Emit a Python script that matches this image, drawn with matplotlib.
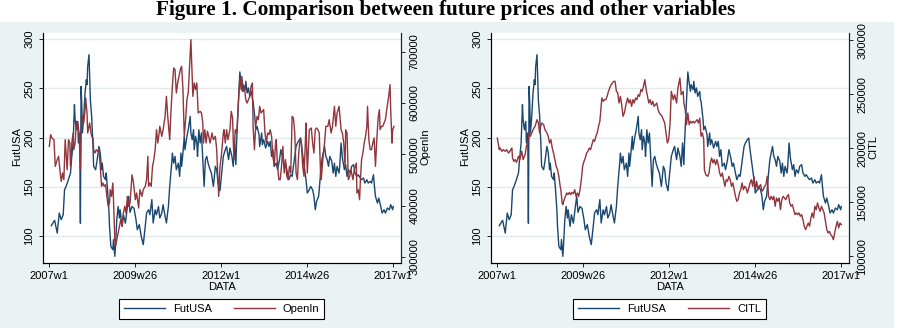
import matplotlib
matplotlib.use('Agg')
import matplotlib.pyplot as plt
from matplotlib.patches import Rectangle

plt.rcParams['font.family'] = ['Liberation Sans', 'DejaVu Sans']

# ---------------- data (weekly index: 0 = 2007w1) ----------------
tick_weeks = [0, 129, 260, 389, 520]
tick_labels = ['2007w1', '2009w26', '2012w1', '2014w26', '2017w1']

fut_weeks = [3, 6, 8, 12, 15, 18, 21, 23, 25, 28, 32, 34, 36, 38, 39, 41, 43, 44, 46, 47,
             48, 49, 50, 52, 54, 56, 57, 58, 60, 62, 64, 66, 67, 70, 72, 75, 77, 79, 80, 82,
             85, 86, 88, 90, 91, 93, 96, 97, 99, 100, 102, 104, 106, 107, 110, 112, 115, 118, 120, 122,
             125, 128, 131, 133, 136, 139, 142, 145, 147, 150, 152, 155, 157, 160, 162, 165, 167, 170, 172, 175,
             177, 180, 182, 185, 186, 188, 190, 192, 195, 197, 199, 200, 202, 204, 205, 208, 210, 213, 214, 216,
             218, 219, 221, 223, 224, 226, 228, 230, 232, 234, 236, 238, 240, 243, 245, 248, 249, 251, 253, 255,
             258, 260, 263, 266, 268, 271, 273, 276, 278, 280, 282, 283, 286, 288, 290, 292, 293, 296, 297, 299,
             301, 303, 306, 307, 308, 311, 312, 314, 317, 318, 321, 322, 324, 327, 330, 332, 334, 336, 338, 340,
             343, 345, 348, 350, 353, 355, 357, 360, 362, 365, 367, 369, 371, 373, 375, 378, 380, 382, 384, 386,
             388, 390, 393, 395, 398, 400, 402, 404, 407, 408, 410, 412, 414, 416, 418, 420, 422, 424, 427, 429,
             431, 433, 435, 438, 439, 441, 443, 446, 448, 450, 452, 455, 457, 460, 462, 465, 467, 470, 472, 475,
             477, 480, 482, 485, 487, 490, 491, 493, 496, 498, 501, 503, 506, 508, 511, 514, 516, 519, 520]
fut_usa = [110.5, 113.9, 115.9, 103, 123.3, 116.6, 121.6, 147, 149.8, 155.5, 164, 181, 194.5, 233.5, 218, 208, 216.5, 194.5, 204.7, 113,
           252, 235, 204.7, 221.6, 245.3, 258.9, 253.8, 272.4, 284.3, 238.5, 221.6, 191, 170.8, 167.4, 175.9, 191, 184.3, 167.4, 174, 160.6,
           157.2, 164, 147, 126.7, 109.8, 89.5, 86.1, 96.3, 79.3, 89.5, 116.6, 130, 118.3, 126.7, 109.8, 121.6, 113, 130, 140.3, 124,
           130, 128, 116.6, 106.4, 111.5, 99.6, 91.2, 109.8, 123.3, 126.7, 121.6, 137, 113.2, 126.7, 121.6, 130, 118.3, 123.3, 131.8, 120,
           113.2, 130, 150.4, 174, 184.3, 174, 180.9, 167.4, 174, 160.6, 184.3, 170.8, 184.3, 201.3, 187.7, 201.3, 208, 221.6, 204.7, 197.9,
           208, 187.7, 201.3, 194.5, 180.9, 208, 194.5, 204.7, 177.6, 150.4, 177.6, 180.9, 174, 167.4, 164, 150.4, 157.2, 170.8, 167.4, 153.8,
           146, 160, 180.9, 187.7, 191, 177.6, 189.4, 180.9, 170.8, 194.5, 172.5, 194.5, 238.5, 266.7, 255.5, 247, 253.8, 248.7, 257.2, 245.3,
           250.4, 241.9, 247, 238.5, 236.8, 218.2, 208, 211.4, 203, 191, 204.7, 192.8, 197.9, 189.4, 196.2, 191, 196.2, 180.9, 187.7, 170.8,
           174, 167.4, 177.6, 187.7, 179.3, 170.8, 174, 164, 157.2, 162.3, 160.6, 170.8, 180.9, 191, 194.5, 197.9, 199.6, 187.7, 177.6, 167.4,
           157.2, 143.7, 147, 150.4, 147, 140.3, 126.7, 135.2, 140.3, 147, 164, 177.6, 184.3, 191, 180.9, 177.6, 170.8, 180.9, 175.9, 164,
           174, 160.6, 170.8, 164, 170.8, 194.5, 179.3, 167.4, 172.5, 160.6, 167.4, 164, 170.8, 172.5, 164, 160.6, 162.3, 158.9, 157.2, 158.9,
           153.8, 157.2, 153.8, 155.5, 153.8, 162.3, 153.8, 140.3, 133.5, 138.6, 130, 123.3, 126.7, 123.3, 128.4, 126.7, 131.8, 126.7, 130]

open_weeks = [0, 2, 4, 7, 9, 12, 14, 17, 18, 20, 22, 24, 26, 27, 29, 31, 32, 34, 36, 37,
              39, 41, 43, 45, 47, 48, 50, 52, 54, 55, 57, 58, 60, 61, 63, 64, 66, 67, 69, 71,
              73, 75, 77, 79, 81, 83, 85, 87, 89, 91, 92, 94, 96, 97, 99, 100, 102, 104, 106, 108,
              110, 112, 114, 116, 118, 120, 122, 125, 127, 130, 132, 135, 137, 140, 142, 145, 147, 149, 150, 152,
              154, 156, 158, 160, 162, 164, 166, 167, 170, 172, 175, 177, 179, 182, 184, 186, 188, 190, 192, 194,
              196, 198, 200, 202, 204, 206, 208, 210, 212, 214, 215, 217, 219, 221, 223, 225, 228, 230, 232, 233,
              235, 237, 239, 241, 243, 246, 248, 251, 253, 256, 258, 260, 263, 264, 266, 268, 270, 273, 275, 277,
              279, 281, 283, 284, 286, 288, 290, 291, 293, 295, 297, 299, 301, 303, 305, 307, 308, 310, 312, 314,
              316, 318, 320, 322, 324, 326, 328, 330, 332, 334, 336, 338, 340, 342, 343, 345, 347, 349, 351, 353,
              355, 357, 359, 361, 363, 365, 367, 369, 371, 373, 375, 377, 379, 381, 383, 385, 387, 388, 390, 393,
              396, 398, 400, 402, 404, 406, 408, 410, 411, 413, 416, 418, 421, 423, 426, 428, 431, 433, 435, 438,
              441, 443, 445, 447, 448, 450, 452, 454, 456, 459, 461, 464, 465, 467, 469, 470, 472, 474, 476, 478,
              480, 481, 483, 485, 487, 489, 491, 493, 495, 497, 499, 500, 502, 504, 506, 508, 510, 513, 515, 516,
              518, 519, 521]
open_in = [515.5, 538.3, 531.8, 528.5, 476.5, 489.5, 496, 457, 447.3, 463.5, 450.5, 528.5, 489.5, 470, 528.5, 522, 476.5, 522, 541.5, 509,
           522, 564.3, 561, 541.5, 470, 541.5, 574, 561, 587, 609.8, 580.5, 541.5, 554.5, 561, 541.5, 535, 531.8, 509, 502.5, 509,
           505.8, 509, 476.5, 437.5, 444, 437.5, 440.8, 418, 398.5, 405, 431, 418, 444, 411.5, 333.5, 320.5, 333.5, 346.6, 359.6, 372.6,
           359.6, 385.6, 398.5, 385.6, 418, 398.5, 405, 460, 447, 411.5, 424.6, 395.3, 431, 418, 431, 437.5, 450.5, 496, 437.5, 444,
           437.5, 476.5, 489.5, 509, 548, 522, 541.5, 554.5, 535, 548, 574, 613, 574, 528.5, 587, 632.5, 668.2, 665, 619.5, 639,
           652, 665, 671.5, 626, 535, 567.5, 606.5, 619.5, 671.5, 723.5, 684.5, 613, 639, 626, 639, 580.5, 583.8, 580.5, 561, 522,
           548, 522, 544.8, 535, 522, 541.5, 528.5, 535, 509, 418, 476.5, 496, 541.5, 548, 522, 548, 528.5, 548, 583.8, 570.8,
           489.5, 548, 541.5, 554.5, 606.5, 648.7, 626, 652, 622.7, 629.2, 606.5, 600, 606.5, 613, 632.5, 639, 554.5, 509, 554.5, 574,
           567.5, 593.5, 580.5, 583.8, 587, 541.5, 522, 541.5, 538.3, 548, 535, 496, 476.5, 522, 528.5, 476.5, 450.5, 450.5, 476.5, 515.5,
           463.5, 489.5, 457, 450.5, 476.5, 463.5, 574, 570.8, 541.5, 463.5, 450.5, 502.5, 528.5, 522, 476.5, 457, 522, 561, 463.5, 548,
           551.3, 522, 502.5, 548, 551.3, 548, 541.5, 463.5, 450.5, 483, 522, 554.5, 554.5, 567.5, 541.5, 554.5, 593.5, 554.5, 580.5, 593.5,
           548, 541.5, 522, 476.5, 548, 541.5, 450.5, 457, 470, 450.5, 470, 483, 424.6, 431, 411.5, 444, 489.5, 502.5, 522, 535,
           554.5, 593.5, 528.5, 509, 509, 522, 531.8, 476.5, 528.5, 570.8, 587, 548, 554.5, 554.5, 561, 567.5, 587, 613, 635.7, 587,
           522, 548, 554.5]
open_in = [v * 1000 for v in open_in]

citl_weeks = [0, 3, 4, 7, 9, 12, 14, 17, 19, 22, 23, 25, 27, 29, 32, 34, 37, 39, 42, 44,
              47, 48, 50, 52, 54, 57, 60, 62, 64, 65, 67, 70, 72, 75, 77, 79, 81, 83, 85, 87,
              89, 91, 93, 95, 96, 98, 99, 101, 103, 105, 107, 109, 111, 113, 115, 117, 119, 121, 123, 125,
              127, 129, 131, 133, 135, 137, 139, 141, 143, 145, 147, 149, 151, 153, 155, 157, 158, 160, 162, 164,
              166, 168, 170, 172, 174, 176, 178, 180, 182, 184, 186, 188, 190, 192, 195, 197, 199, 201, 203, 205,
              207, 209, 211, 213, 215, 217, 219, 221, 223, 225, 227, 229, 231, 233, 235, 237, 239, 241, 243, 245,
              247, 249, 251, 253, 255, 257, 259, 261, 263, 266, 268, 271, 273, 276, 278, 281, 282, 284, 286, 288,
              290, 292, 294, 296, 298, 300, 302, 304, 306, 308, 310, 312, 313, 315, 318, 320, 322, 324, 326, 328,
              330, 332, 334, 336, 338, 340, 342, 344, 346, 348, 350, 352, 354, 356, 358, 360, 362, 364, 366, 368,
              370, 372, 374, 376, 378, 380, 382, 384, 386, 388, 390, 392, 394, 396, 398, 400, 402, 404, 406, 408,
              410, 412, 414, 416, 418, 420, 422, 424, 426, 428, 430, 432, 434, 436, 438, 440, 442, 444, 446, 448,
              450, 452, 454, 456, 458, 460, 462, 464, 466, 468, 470, 472, 474, 476, 478, 480, 482, 484, 486, 488,
              490, 492, 494, 496, 498, 500, 502, 504, 506, 508, 510, 512, 514, 516, 518, 520]
citl = [209.7, 198.9, 200.5, 197.4, 198.9, 197.4, 198.9, 195.8, 197.4, 200.5, 191.2, 188.1, 189.7, 187.2, 192.8, 189.7, 197.4, 189.7, 194.3, 202,
        208.2, 214.4, 211.3, 214.4, 217.4, 220.5, 226.7, 223.6, 214.4, 219, 223.6, 222.1, 217.4, 214.4, 211.3, 205.1, 208.2, 200.5, 195.8, 189.7,
        183.5, 180.4, 174.2, 165, 161.9, 149.6, 148, 152.6, 155.7, 158.8, 157.3, 159.4, 157.3, 159.4, 158.2, 161.9, 155.7, 158.8, 155.7, 161.9,
        171.1, 183.5, 188.1, 191.2, 195.8, 197.4, 200.5, 198.9, 203.6, 208.2, 206.6, 211.3, 214.4, 220.5, 225.2, 239, 246.8, 243.7, 245.2, 245.2,
        248.3, 252.9, 256, 259.1, 260.6, 262.2, 262.2, 252.9, 251.4, 242.1, 248.3, 240.6, 229.8, 232.9, 242.1, 246.8, 242.1, 245.2, 239, 245.2,
        242.1, 246.8, 245.2, 249.8, 248.3, 254.5, 252.9, 257.6, 263.7, 254.5, 248.3, 242.1, 245.2, 240.6, 243.7, 239, 240.6, 242.1, 235.9, 232.9,
        231.3, 229.8, 226.7, 223.6, 214.4, 205.1, 208.2, 222, 252.9, 245.2, 249.8, 242.1, 256, 265.3, 249.8, 252.9, 242.1, 236, 222.1, 232.9,
        222.1, 225.2, 223.6, 225.2, 223.6, 225.2, 226.7, 223.6, 228.2, 211.3, 214.4, 208.2, 180.4, 175.8, 174.2, 177.3, 186.6, 191.2, 186.6, 189.7,
        185, 189.7, 185, 177.3, 174.2, 177.3, 171.1, 165, 171.1, 169.6, 174.2, 171.1, 165, 168.1, 161.9, 155.7, 151.1, 152.6, 158.8, 161.9,
        168.1, 161.9, 165, 163.4, 158.8, 163.4, 168.1, 171.1, 165, 174.2, 161.9, 169.6, 161.9, 165, 166.5, 160.4, 161.9, 165, 166.5, 174.2,
        155.7, 152.6, 155.7, 152.6, 155.7, 146.5, 154.2, 151.1, 154.2, 143.4, 152.6, 155.7, 154.2, 152.6, 155.7, 157.3, 149.6, 146.5, 148, 143.4,
        138.8, 140.3, 138.8, 140.3, 137.2, 138.8, 134.1, 128, 124.9, 128, 131, 128, 135.7, 140.3, 135.7, 146.5, 143.4, 149.6, 144.9, 141.8,
        146.5, 143.4, 140.3, 132.6, 124.9, 121.8, 123.3, 120.2, 118.7, 115.6, 121.8, 128, 132.6, 126.5, 131, 129.5]
citl = [v * 1000 for v in citl]

open_ticks = [300000, 400000, 500000, 600000, 700000]
citl_ticks = [100000, 150000, 200000, 250000, 300000]
fut_ticks = [100, 150, 200, 250, 300]

NAVY = '#1A476F'
MAROON = '#90353B'
BG = '#EAF2F3'

W, H = 898, 328
fig = plt.figure(figsize=(W / 100, H / 100), dpi=100)
fig.patch.set_facecolor('white')


def fx(px):
    return px / W


def fy(py):
    return 1 - py / H


fig.patches.append(Rectangle((0, 0), fx(894), fy(22), transform=fig.transFigure,
                             facecolor=BG, edgecolor='none', zorder=0))

fig.text(fx(446), fy(10.5), 'Figure 1. Comparison between future prices and other variables',
         ha='center', va='center', fontsize=15.3, fontweight='bold', family='Liberation Serif')

FS = 8


def panel(x0, rweeks, rvals, rlim, rticks, rname):
    ax = fig.add_axes([fx(x0), 1 - 263 / H, 358.3 / W, 230 / H])
    ax.set_facecolor('white')
    ax.set_zorder(2)
    l1, = ax.plot(fut_weeks, fut_usa, color=NAVY, lw=1.0, zorder=3)
    ax.set_xlim(-10, 531.6)
    ax.set_ylim(72.56, 306.3)
    ax.set_yticks(fut_ticks)
    ax.set_yticklabels([str(t) for t in fut_ticks], rotation=90, va='center', fontsize=FS)
    ax.set_xticks(tick_weeks)
    ax.set_xticklabels(tick_labels, fontsize=FS)
    ax.grid(axis='y', color='#E2EAEC', lw=1.0)
    ax.set_axisbelow(True)
    for s in ['left', 'bottom', 'right']:
        ax.spines[s].set_color('#222222')
        ax.spines[s].set_linewidth(0.8)
    ax.spines['top'].set_visible(False)
    ax.tick_params(direction='out', length=3, width=0.7, color='#222222', pad=2.5)
    ax.tick_params(axis='y', pad=3)

    ax2 = ax.twinx()
    l2, = ax2.plot(rweeks, rvals, color=MAROON, lw=1.0, zorder=3)
    ax2.set_ylim(*rlim)
    ax2.set_yticks(rticks)
    ax2.set_yticklabels([str(t) for t in rticks], rotation=90, va='center', fontsize=FS)
    ax2.spines['top'].set_visible(False)
    ax2.spines['right'].set_color('#222222')
    ax2.spines['right'].set_linewidth(0.8)
    ax2.tick_params(direction='out', length=3, width=0.7, color='#222222', pad=3)

    # axis titles
    fig.text(fx(x0 - 25.7), fy(147), 'FutUSA', rotation=90, ha='center', va='center', fontsize=FS)
    fig.text(fx(x0 + 179), fy(287), 'DATA', ha='center', va='center', fontsize=FS)
    fig.text(fx(x0 + 382.5), fy(147), rname, rotation=90, ha='center', va='center', fontsize=FS)
    return ax, l1, l2


axL, a1, a2 = panel(42.7, open_weeks, open_in, (288100, 736450), open_ticks, 'OpenIn')
axR, b1, b2 = panel(490.7, citl_weeks, citl, (93980, 306940), citl_ticks, 'CITL')


def legend(handles, labels, cx):
    leg = fig.legend(handles, labels, ncol=2, loc='center', bbox_to_anchor=(fx(cx), fy(309)),
                     bbox_transform=fig.transFigure, frameon=True, fancybox=False,
                     edgecolor='black', framealpha=1, fontsize=FS, handlelength=3.7,
                     handletextpad=0.7, columnspacing=2.0, borderpad=0.45, borderaxespad=0)
    leg.get_frame().set_linewidth(0.8)
    return leg


legend([a1, a2], ['FutUSA', 'OpenIn'], 221.5)
legend([b1, b2], ['FutUSA', 'CITL'], 669.7)

fig.savefig('out.png', dpi=100)
